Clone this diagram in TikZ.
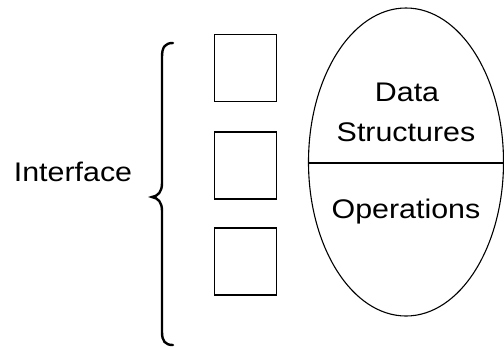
\documentclass[tikz,border=0pt]{standalone}
\usepackage{fontspec}
\setmainfont{Liberation Sans}[FakeStretch=1.13]
\begin{document}
\begin{tikzpicture}[x=1bp,y=-1bp,
  label/.style={font=\fontsize{27}{40}\selectfont, inner sep=0pt, align=center},
  slot/.style={draw, line width=1.9bp, minimum width=62bp, minimum height=67bp, inner sep=0pt},
  adt/.style={draw, line width=1.1bp}
]
\useasboundingbox (0,0) rectangle (504,347);

% interface label and brace
\node[label, anchor=base] (iface) at (73,181) {Interface};
\draw[line width=2.4bp, line cap=round]
  (173,43) .. controls (165,43) and (162,47) .. (162,57)
  -- (162,183) .. controls (162,192) and (158,196) .. (152,197)
  .. controls (158,198) and (162,202) .. (162,211)
  -- (162,332) .. controls (162,341) and (165,345) .. (173,345);

% interface slots
\node[slot] (s1) at (245.5,68) {};
\node[slot] (s2) at (245.5,165.5) {};
\node[slot] (s3) at (245.5,261.5) {};

% the abstract data type
\draw[adt] (406,162) ellipse [x radius=97.5bp, y radius=154bp];
\coordinate (l) at (308.5,163);
\coordinate (r) at (503.5,163);
\draw[line width=1.4bp] (l) -- (r);

\node[label, anchor=base] (data) at (407,101) {Data};
\node[label, anchor=base] (struct) at (406,141) {Structures};
\node[label, anchor=base] (ops) at (406,218) {Operations};
\end{tikzpicture}
\end{document}
